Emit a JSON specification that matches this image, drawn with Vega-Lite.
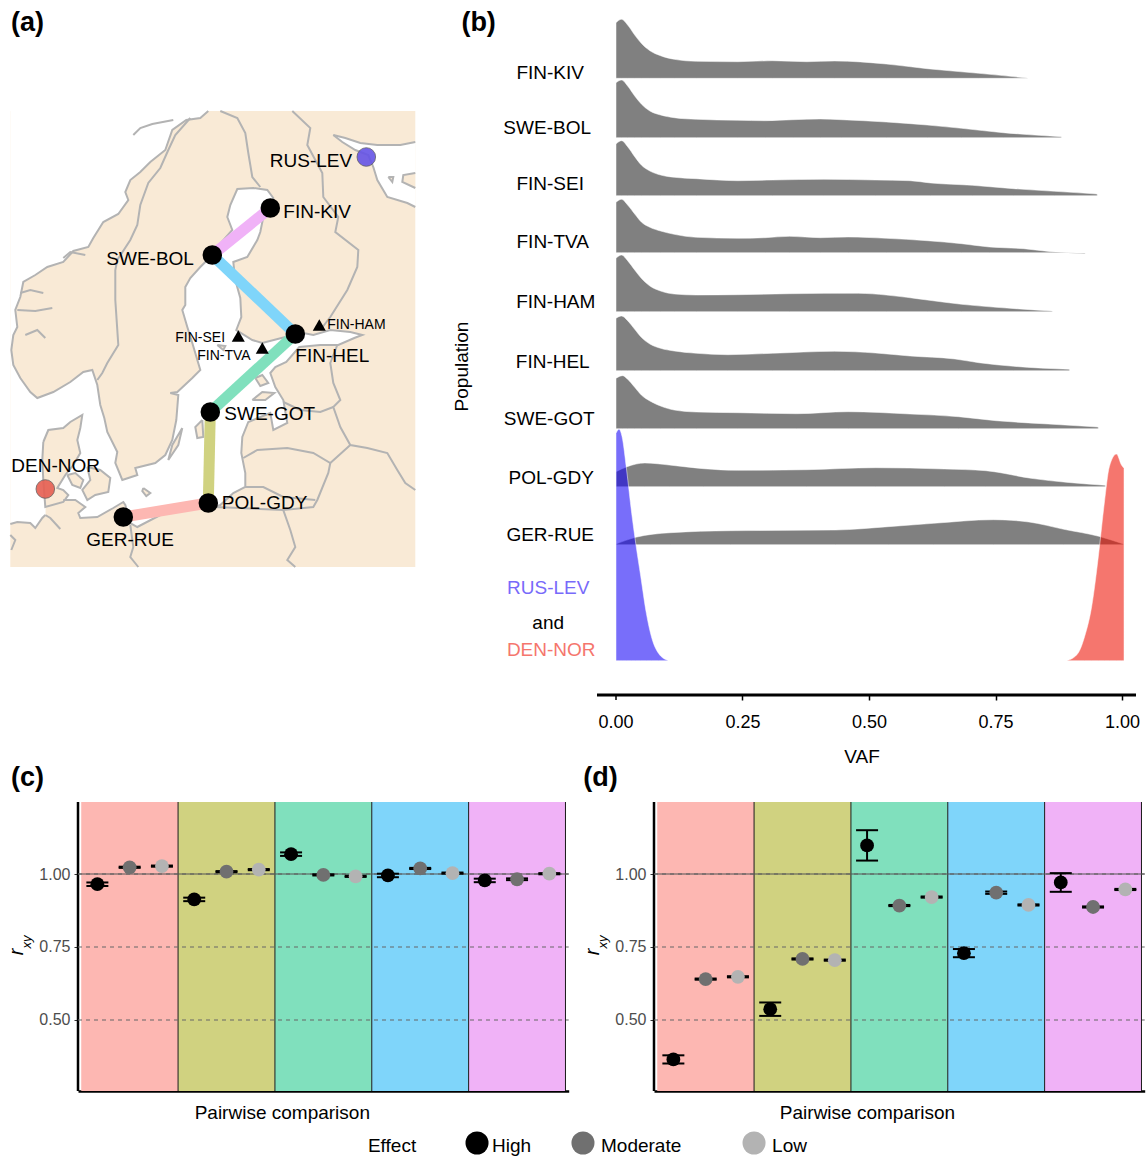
{
"$schema":"https://vega.github.io/schema/vega-lite/v6.json",
"padding":0,
"background":"white",
"columns":4,
"align":"none",
"bounds":"flush",
"spacing":{"row":39,"column":0},
"resolve":{"scale":{"color":"independent","fill":"independent"}},
"config":{"view":{"stroke":null},"font":"Liberation Sans","text":{"font":"Liberation Sans"},"axis":{"labelFont":"Liberation Sans","titleFont":"Liberation Sans"}},
"datasets":{
"map":[
{"sea":"main","x":1,"y":11.1},
{"sea":"main","line":"c1","x":20.8,"y":11.1},{"sea":"main","line":"c1","x":20,"y":11.8},{"sea":"main","line":"c1","x":18.6,"y":12},{"sea":"main","line":"c1","x":17.2,"y":13},{"sea":"main","line":"c1","x":16.5,"y":15},{"sea":"main","line":"c1","x":15,"y":16.2},{"sea":"main","line":"c1","x":14,"y":17.2},{"sea":"main","line":"c1","x":13,"y":18},{"sea":"main","line":"c1","x":12.5,"y":19.2},{"sea":"main","line":"c1","x":12.8,"y":20},{"sea":"main","line":"c1","x":11.8,"y":21.4},{"sea":"main","line":"c1","x":10.3,"y":22.2},{"sea":"main","line":"c1","x":9.3,"y":23.8},{"sea":"main","line":"c1","x":8.8,"y":24.7},{"sea":"main","line":"c1","x":7.3,"y":25.1},{"sea":"main","line":"c1","x":6.3,"y":26.2},{"sea":"main","line":"c1","x":4.7,"y":26.7},{"sea":"main","line":"c1","x":3.5,"y":27.5},{"sea":"main","line":"c1","x":2.3,"y":28.2},{"sea":"main","line":"c1","x":2,"y":29.7},{"sea":"main","line":"c1","x":1.5,"y":31},{"sea":"main","line":"c1","x":1.7,"y":32.7},{"sea":"main","line":"c1","x":1.3,"y":33.5},{"sea":"main","line":"c1","x":1.1,"y":35},{"sea":"main","line":"c1","x":1.3,"y":36.5},{"sea":"main","line":"c1","x":2,"y":37.8},{"sea":"main","line":"c1","x":3,"y":39.2},{"sea":"main","line":"c1","x":3.7,"y":39.8},{"sea":"main","line":"c1","x":5.3,"y":39.2},{"sea":"main","line":"c1","x":7,"y":38.2},{"sea":"main","line":"c1","x":8.3,"y":37.2},{"sea":"main","line":"c1","x":9.2,"y":37},{"sea":"main","line":"c1","x":9.7,"y":38.5},{"sea":"main","line":"c1","x":10,"y":40.5},{"sea":"main","line":"c1","x":10.4,"y":41.8},{"sea":"main","line":"c1","x":10.7,"y":43.2},{"sea":"main","line":"c1","x":11.7,"y":45.2},{"sea":"main","line":"c1","x":11.5,"y":46.3},{"sea":"main","line":"c1","x":12.2,"y":48},{"sea":"main","line":"c1","x":13.7,"y":47.5},{"sea":"main","line":"c1","x":13.5,"y":46.8},{"sea":"main","line":"c1","x":15.5,"y":46.3},{"sea":"main","line":"c1","x":16.5,"y":45.5},{"sea":"main","line":"c1","x":17.2,"y":44},{"sea":"main","line":"c1","x":17.6,"y":42},{"sea":"main","line":"c1","x":17.8,"y":39.5},{"sea":"main","line":"c1","x":17,"y":39.3},{"sea":"main","line":"c1","x":17.7,"y":39.2},{"sea":"main","line":"c1","x":19.2,"y":37.8},{"sea":"main","line":"c1","x":20,"y":37},{"sea":"main","line":"c1","x":19.2,"y":34.3},{"sea":"main","line":"c1","x":18.7,"y":32.7},{"sea":"main","line":"c1","x":18.2,"y":31},{"sea":"main","line":"c1","x":18.5,"y":30.5},{"sea":"main","line":"c1","x":18.5,"y":28.7},{"sea":"main","line":"c1","x":19,"y":27.8},{"sea":"main","line":"c1","x":20,"y":26.7},{"sea":"main","line":"c1","x":21.2,"y":25.5},{"sea":"main","line":"c1","x":21.7,"y":24.7},{"sea":"main","line":"c1","x":23.2,"y":23},{"sea":"main","line":"c1","x":22.7,"y":21.7},{"sea":"main","line":"c1","x":23,"y":20.5},{"sea":"main","line":"c1","x":23.7,"y":18.9},{"sea":"main","line":"c1","x":25.3,"y":18.8},{"sea":"main","line":"c1","x":26.7,"y":19},{"sea":"main","line":"c1","x":27.3,"y":19.8},{"sea":"main","line":"c1","x":26.3,"y":21.7},{"sea":"main","line":"c1","x":26,"y":23.2},{"sea":"main","line":"c1","x":25.7,"y":24},{"sea":"main","line":"c1","x":24.7,"y":25.7},{"sea":"main","line":"c1","x":23.3,"y":26.2},{"sea":"main","line":"c1","x":23.5,"y":28},{"sea":"main","line":"c1","x":24,"y":29.8},{"sea":"main","line":"c1","x":24.1,"y":31.7},{"sea":"main","line":"c1","x":23.6,"y":33},{"sea":"main","line":"c1","x":25.2,"y":34},{"sea":"main","line":"c1","x":26.2,"y":34.3},{"sea":"main","line":"c1","x":28.5,"y":33.7},{"sea":"main","line":"c1","x":29.8,"y":33.2},{"sea":"main","line":"c1","x":31.3,"y":33.5},{"sea":"main","line":"c1","x":33,"y":33},{"sea":"main","line":"c1","x":35,"y":33.2},{"sea":"main","line":"c1","x":36.2,"y":33.5},{"sea":"main","line":"c1","x":35.4,"y":33.8},{"sea":"main","line":"c1","x":33.8,"y":34.5},{"sea":"main","line":"c1","x":32,"y":34.5},{"sea":"main","line":"c1","x":29.9,"y":34.7},{"sea":"main","line":"c1","x":28.6,"y":36.2},{"sea":"main","line":"c1","x":27.5,"y":36.7},{"sea":"main","line":"c1","x":27,"y":37.3},{"sea":"main","line":"c1","x":27.5,"y":38.7},{"sea":"main","line":"c1","x":28.3,"y":40},{"sea":"main","line":"c1","x":28.7,"y":42.3},{"sea":"main","line":"c1","x":27.3,"y":43},{"sea":"main","line":"c1","x":27,"y":41.3},{"sea":"main","line":"c1","x":24.8,"y":42.2},{"sea":"main","line":"c1","x":24.2,"y":43.7},{"sea":"main","line":"c1","x":24.1,"y":45.3},{"sea":"main","line":"c1","x":24.5,"y":47.3},{"sea":"main","line":"c1","x":24.5,"y":48.7},{"sea":"main","line":"c1","x":23.3,"y":49.3},{"sea":"main","line":"c1","x":22,"y":50.5},{"sea":"main","line":"c1","x":21.3,"y":50.7},{"sea":"main","line":"c1","x":20,"y":50.5},{"sea":"main","line":"c1","x":18,"y":51},{"sea":"main","line":"c1","x":16,"y":51.5},{"sea":"main","line":"c1","x":13.7,"y":52.7},{"sea":"main","line":"c1","x":13,"y":52.3},{"sea":"main","line":"c1","x":12.5,"y":50.5},{"sea":"main","line":"c1","x":12.3,"y":50.2},{"sea":"main","line":"c1","x":11.3,"y":50.8},{"sea":"main","line":"c1","x":9.7,"y":51.7},{"sea":"main","line":"c1","x":8,"y":51.8},{"sea":"main","line":"c1","x":7.8,"y":51.3},{"sea":"main","line":"c1","x":8.5,"y":50.7},{"sea":"main","line":"c1","x":7.5,"y":50},{"sea":"main","line":"c1","x":6.3,"y":50},
{"sea":"main","x":6,"y":49},{"sea":"main","x":4.5,"y":49.5},
{"sea":"main","line":"c2","x":4.5,"y":51.5},{"sea":"main","line":"c2","x":4.2,"y":51.8},{"sea":"main","line":"c2","x":3.5,"y":52.8},{"sea":"main","line":"c2","x":3,"y":52.3},{"sea":"main","line":"c2","x":1.7,"y":52.2},{"sea":"main","line":"c2","x":1,"y":52.4},
{"sea":"white","line":"w1","x":33.3,"y":13.5},{"sea":"white","line":"w1","x":34.5,"y":13.8},{"sea":"white","line":"w1","x":36,"y":14.3},{"sea":"white","line":"w1","x":37.7,"y":14.5},{"sea":"white","line":"w1","x":40,"y":14.5},{"sea":"white","line":"w1","x":41.5,"y":14.2},
{"sea":"white","x":41.5,"y":20.7},
{"sea":"white","line":"w2","x":41.5,"y":20.7},{"sea":"white","line":"w2","x":40.7,"y":20.3},{"sea":"white","line":"w2","x":38.7,"y":19.7},{"sea":"white","line":"w2","x":37.7,"y":18},{"sea":"white","line":"w2","x":37.3,"y":16.7},{"sea":"white","line":"w2","x":36.8,"y":15.5},{"sea":"white","line":"w2","x":35.5,"y":15},{"sea":"white","line":"w2","x":34.2,"y":14.2},{"sea":"white","line":"w2","x":33.3,"y":13.5},
{"land":"kola","x":41.5,"y":17.3},{"land":"kola","x":40.3,"y":17.5},{"land":"kola","x":40.2,"y":18.2},{"land":"kola","x":41.5,"y":18.8},
{"land":"isl","x":38.8,"y":17.7},{"land":"isl","x":39.3,"y":17.7},{"land":"isl","x":39.2,"y":18.2},{"land":"isl","x":38.8,"y":17.7},
{"land":"jut","x":4.3,"y":44.2},{"land":"jut","x":4.8,"y":43},{"land":"jut","x":6.3,"y":42.8},{"land":"jut","x":7,"y":42.2},{"land":"jut","x":8.2,"y":41.5},{"land":"jut","x":8,"y":42.8},{"land":"jut","x":7.7,"y":44},{"land":"jut","x":8,"y":45.3},{"land":"jut","x":7.3,"y":46.5},{"land":"jut","x":6.5,"y":47.5},{"land":"jut","x":5.7,"y":48.8},{"land":"jut","x":6.3,"y":49},{"land":"jut","x":6.8,"y":49.5},{"land":"jut","x":6.3,"y":50.2},{"land":"jut","x":4.5,"y":50.7},{"land":"jut","x":4.3,"y":48},{"land":"jut","x":4.2,"y":46},{"land":"jut","x":4.3,"y":44.2},
{"land":"fyn","x":6.7,"y":47.5},{"land":"fyn","x":7.5,"y":47.3},{"land":"fyn","x":8.3,"y":48},{"land":"fyn","x":8,"y":48.8},{"land":"fyn","x":7.2,"y":48.5},{"land":"fyn","x":6.7,"y":47.5},
{"land":"zea","x":8.7,"y":46.7},{"land":"zea","x":10,"y":47},{"land":"zea","x":11,"y":47.8},{"land":"zea","x":10.8,"y":49.2},{"land":"zea","x":9.5,"y":49.5},{"land":"zea","x":8.7,"y":50},{"land":"zea","x":8.2,"y":49},{"land":"zea","x":9,"y":48},{"land":"zea","x":8.7,"y":46.7},
{"land":"bor","x":14.3,"y":48.8},{"land":"bor","x":15,"y":49.3},{"land":"bor","x":14.6,"y":49.6},{"land":"bor","x":14.2,"y":49.1},{"land":"bor","x":14.3,"y":48.8},
{"land":"ola","x":18.2,"y":42.8},{"land":"ola","x":17.8,"y":44.5},{"land":"ola","x":16.8,"y":46},{"land":"ola","x":17.2,"y":44.5},{"land":"ola","x":18.2,"y":42.8},
{"land":"got","x":20.2,"y":42},{"land":"got","x":20.3,"y":43.7},{"land":"got","x":19.7,"y":43.8},{"land":"got","x":19.5,"y":42.7},{"land":"got","x":20.2,"y":42},
{"land":"hii","x":25.5,"y":37.8},{"land":"hii","x":26.2,"y":37.5},{"land":"hii","x":26.8,"y":38.3},{"land":"hii","x":26,"y":38.6},{"land":"hii","x":25.5,"y":37.8},
{"land":"saa","x":25.2,"y":40},{"land":"saa","x":26.2,"y":39.2},{"land":"saa","x":27.4,"y":39.3},{"land":"saa","x":26.5,"y":40},{"land":"saa","x":25.2,"y":40},
{"land":"ala","x":21.7,"y":34.5},{"land":"ala","x":22.5,"y":34.6},{"land":"ala","x":22.3,"y":35},{"land":"ala","x":21.7,"y":34.5},
{"line":"lof","x":13.3,"y":13.5},{"line":"lof","x":14,"y":12.8},{"line":"lof","x":15.2,"y":12.4},{"line":"lof","x":17.3,"y":12},
{"line":"fj1","x":2,"y":29.3},{"line":"fj1","x":3,"y":29},{"line":"fj1","x":4.3,"y":29.3},
{"line":"fj2","x":1.7,"y":31},{"line":"fj2","x":3.5,"y":31.1},{"line":"fj2","x":5.2,"y":30.8},
{"line":"fj3","x":6.3,"y":25.8},{"line":"fj3","x":7,"y":25.2},{"line":"fj3","x":8.5,"y":25.5},
{"line":"fj4","x":2.5,"y":33.5},{"line":"fj4","x":3.7,"y":33},{"line":"fj4","x":4.5,"y":33.8},
{"line":"riv","x":4.5,"y":51.5},{"line":"riv","x":5,"y":51.8},{"line":"riv","x":6,"y":52.9},
{"line":"nos","x":19,"y":11.8},{"line":"nos","x":17.5,"y":13.5},{"line":"nos","x":16.8,"y":15},{"line":"nos","x":16,"y":16.8},{"line":"nos","x":14.8,"y":18.3},{"line":"nos","x":14,"y":20.5},{"line":"nos","x":13.7,"y":22.5},{"line":"nos","x":13,"y":24},{"line":"nos","x":11.7,"y":26},{"line":"nos","x":11.5,"y":27},{"line":"nos","x":11.5,"y":30},{"line":"nos","x":11.8,"y":34.5},{"line":"nos","x":10.7,"y":36.3},{"line":"nos","x":10.2,"y":37.3},{"line":"nos","x":9.7,"y":38},
{"line":"swf","x":22,"y":11.1},{"line":"swf","x":23.7,"y":11.8},{"line":"swf","x":24.5,"y":13.3},{"line":"swf","x":24.8,"y":15.3},{"line":"swf","x":25.2,"y":17.7},{"line":"swf","x":26,"y":18.7},
{"line":"fru","x":29.2,"y":11.1},{"line":"fru","x":31,"y":12.8},{"line":"fru","x":30.7,"y":14.5},{"line":"fru","x":32.2,"y":17.3},{"line":"fru","x":32.3,"y":19.7},{"line":"fru","x":33.8,"y":21.7},{"line":"fru","x":33.5,"y":23.2},{"line":"fru","x":35.8,"y":25},{"line":"fru","x":35.7,"y":26.7},{"line":"fru","x":34.7,"y":29},{"line":"fru","x":33,"y":31.7},{"line":"fru","x":32,"y":33},
{"line":"eru","x":33.7,"y":34.5},{"line":"eru","x":33,"y":36.3},{"line":"eru","x":33.3,"y":38.3},{"line":"eru","x":34,"y":40},{"line":"eru","x":33.3,"y":40.7},{"line":"eru","x":34,"y":42.7},{"line":"eru","x":35,"y":44.5},{"line":"eru","x":36.7,"y":44.8},{"line":"eru","x":38.7,"y":45.3},{"line":"eru","x":39.7,"y":47},{"line":"eru","x":40.5,"y":48.3},{"line":"eru","x":41.5,"y":49},
{"line":"est","x":28.3,"y":40.2},{"line":"est","x":30,"y":41},{"line":"est","x":32,"y":41.2},{"line":"est","x":33.3,"y":40.7},
{"line":"lat","x":24.3,"y":45.8},{"line":"lat","x":25.7,"y":45},{"line":"lat","x":28.7,"y":44.8},{"line":"lat","x":31.3,"y":45.3},{"line":"lat","x":33,"y":46.3},{"line":"lat","x":35,"y":44.5},
{"line":"bel","x":33,"y":46.3},{"line":"bel","x":32.8,"y":47.3},{"line":"bel","x":31.7,"y":50},{"line":"bel","x":31.3,"y":50.7},{"line":"bel","x":28.3,"y":51},{"line":"bel","x":29,"y":53},{"line":"bel","x":29.5,"y":54.7},{"line":"bel","x":28.7,"y":56},{"line":"bel","x":29.5,"y":56.7},
{"line":"kal","x":24.5,"y":48.7},{"line":"kal","x":26.3,"y":48.7},{"line":"kal","x":28.3,"y":49.7},{"line":"kal","x":31.5,"y":50},
{"line":"pol","x":21.3,"y":50.7},{"line":"pol","x":24,"y":50.8},{"line":"pol","x":28.3,"y":51},
{"line":"ger","x":13,"y":52.5},{"line":"ger","x":13.3,"y":54.7},{"line":"ger","x":13,"y":55.7},{"line":"ger","x":13.8,"y":56.7},
{"line":"ned","x":1,"y":53.5},{"line":"ned","x":1.5,"y":54},{"line":"ned","x":1.1,"y":55}
],
"ridges":[
{"pop":"FIN-KIV","vaf":0,"ymin":61.67,"ymax":67.23},{"pop":"FIN-KIV","vaf":0.011,"ymin":61.67,"ymax":67.57},{"pop":"FIN-KIV","vaf":0.023,"ymin":61.67,"ymax":67},{"pop":"FIN-KIV","vaf":0.037,"ymin":61.67,"ymax":66},{"pop":"FIN-KIV","vaf":0.05,"ymin":61.67,"ymax":65.17},{"pop":"FIN-KIV","vaf":0.067,"ymin":61.67,"ymax":64.43},{"pop":"FIN-KIV","vaf":0.088,"ymin":61.67,"ymax":63.93},{"pop":"FIN-KIV","vaf":0.115,"ymin":61.67,"ymax":63.57},{"pop":"FIN-KIV","vaf":0.159,"ymin":61.67,"ymax":63.37},{"pop":"FIN-KIV","vaf":0.241,"ymin":61.67,"ymax":63.33},{"pop":"FIN-KIV","vaf":0.309,"ymin":61.67,"ymax":63.43},{"pop":"FIN-KIV","vaf":0.377,"ymin":61.67,"ymax":63.33},{"pop":"FIN-KIV","vaf":0.432,"ymin":61.67,"ymax":63.4},{"pop":"FIN-KIV","vaf":0.534,"ymin":61.67,"ymax":63.1},{"pop":"FIN-KIV","vaf":0.615,"ymin":61.67,"ymax":62.63},{"pop":"FIN-KIV","vaf":0.717,"ymin":61.67,"ymax":62.17},{"pop":"FIN-KIV","vaf":0.813,"ymin":61.67,"ymax":61.7},
{"pop":"SWE-BOL","vaf":0,"ymin":55.73,"ymax":61.23},{"pop":"SWE-BOL","vaf":0.011,"ymin":55.73,"ymax":61.5},{"pop":"SWE-BOL","vaf":0.023,"ymin":55.73,"ymax":60.9},{"pop":"SWE-BOL","vaf":0.037,"ymin":55.73,"ymax":59.9},{"pop":"SWE-BOL","vaf":0.05,"ymin":55.73,"ymax":59.1},{"pop":"SWE-BOL","vaf":0.067,"ymin":55.73,"ymax":58.4},{"pop":"SWE-BOL","vaf":0.088,"ymin":55.73,"ymax":58},{"pop":"SWE-BOL","vaf":0.115,"ymin":55.73,"ymax":57.73},{"pop":"SWE-BOL","vaf":0.159,"ymin":55.73,"ymax":57.57},{"pop":"SWE-BOL","vaf":0.241,"ymin":55.73,"ymax":57.47},{"pop":"SWE-BOL","vaf":0.295,"ymin":55.73,"ymax":57.43},{"pop":"SWE-BOL","vaf":0.35,"ymin":55.73,"ymax":57.53},{"pop":"SWE-BOL","vaf":0.404,"ymin":55.73,"ymax":57.6},{"pop":"SWE-BOL","vaf":0.445,"ymin":55.73,"ymax":57.53},{"pop":"SWE-BOL","vaf":0.534,"ymin":55.73,"ymax":57.3},{"pop":"SWE-BOL","vaf":0.615,"ymin":55.73,"ymax":57},{"pop":"SWE-BOL","vaf":0.683,"ymin":55.73,"ymax":56.67},{"pop":"SWE-BOL","vaf":0.765,"ymin":55.73,"ymax":56.23},{"pop":"SWE-BOL","vaf":0.88,"ymin":55.73,"ymax":55.83},
{"pop":"FIN-SEI","vaf":0,"ymin":49.93,"ymax":55.1},{"pop":"FIN-SEI","vaf":0.011,"ymin":49.93,"ymax":55.43},{"pop":"FIN-SEI","vaf":0.023,"ymin":49.93,"ymax":54.83},{"pop":"FIN-SEI","vaf":0.037,"ymin":49.93,"ymax":53.83},{"pop":"FIN-SEI","vaf":0.05,"ymin":49.93,"ymax":53},{"pop":"FIN-SEI","vaf":0.067,"ymin":49.93,"ymax":52.4},{"pop":"FIN-SEI","vaf":0.088,"ymin":49.93,"ymax":52},{"pop":"FIN-SEI","vaf":0.115,"ymin":49.93,"ymax":51.77},{"pop":"FIN-SEI","vaf":0.159,"ymin":49.93,"ymax":51.63},{"pop":"FIN-SEI","vaf":0.241,"ymin":49.93,"ymax":51.43},{"pop":"FIN-SEI","vaf":0.309,"ymin":49.93,"ymax":51.5},{"pop":"FIN-SEI","vaf":0.411,"ymin":49.93,"ymax":51.57},{"pop":"FIN-SEI","vaf":0.513,"ymin":49.93,"ymax":51.5},{"pop":"FIN-SEI","vaf":0.581,"ymin":49.93,"ymax":51.43},{"pop":"FIN-SEI","vaf":0.622,"ymin":49.93,"ymax":51.2},{"pop":"FIN-SEI","vaf":0.704,"ymin":49.93,"ymax":50.97},{"pop":"FIN-SEI","vaf":0.786,"ymin":49.93,"ymax":50.63},{"pop":"FIN-SEI","vaf":0.867,"ymin":49.93,"ymax":50.37},{"pop":"FIN-SEI","vaf":0.951,"ymin":49.93,"ymax":50.1},
{"pop":"FIN-TVA","vaf":0,"ymin":44.23,"ymax":49.27},{"pop":"FIN-TVA","vaf":0.011,"ymin":44.23,"ymax":49.57},{"pop":"FIN-TVA","vaf":0.023,"ymin":44.23,"ymax":49},{"pop":"FIN-TVA","vaf":0.037,"ymin":44.23,"ymax":48.1},{"pop":"FIN-TVA","vaf":0.05,"ymin":44.23,"ymax":47.3},{"pop":"FIN-TVA","vaf":0.067,"ymin":44.23,"ymax":46.77},{"pop":"FIN-TVA","vaf":0.088,"ymin":44.23,"ymax":46.4},{"pop":"FIN-TVA","vaf":0.115,"ymin":44.23,"ymax":46.07},{"pop":"FIN-TVA","vaf":0.159,"ymin":44.23,"ymax":45.77},{"pop":"FIN-TVA","vaf":0.241,"ymin":44.23,"ymax":45.67},{"pop":"FIN-TVA","vaf":0.295,"ymin":44.23,"ymax":45.73},{"pop":"FIN-TVA","vaf":0.343,"ymin":44.23,"ymax":45.87},{"pop":"FIN-TVA","vaf":0.404,"ymin":44.23,"ymax":45.73},{"pop":"FIN-TVA","vaf":0.459,"ymin":44.23,"ymax":45.8},{"pop":"FIN-TVA","vaf":0.534,"ymin":44.23,"ymax":45.67},{"pop":"FIN-TVA","vaf":0.615,"ymin":44.23,"ymax":45.43},{"pop":"FIN-TVA","vaf":0.683,"ymin":44.23,"ymax":45.13},{"pop":"FIN-TVA","vaf":0.738,"ymin":44.23,"ymax":44.8},{"pop":"FIN-TVA","vaf":0.806,"ymin":44.23,"ymax":44.63},{"pop":"FIN-TVA","vaf":0.86,"ymin":44.23,"ymax":44.33},{"pop":"FIN-TVA","vaf":0.927,"ymin":44.13,"ymax":44.2},
{"pop":"FIN-HAM","vaf":0,"ymin":38.33,"ymax":43.67},{"pop":"FIN-HAM","vaf":0.011,"ymin":38.33,"ymax":44},{"pop":"FIN-HAM","vaf":0.023,"ymin":38.33,"ymax":43.43},{"pop":"FIN-HAM","vaf":0.037,"ymin":38.33,"ymax":42.5},{"pop":"FIN-HAM","vaf":0.05,"ymin":38.33,"ymax":41.67},{"pop":"FIN-HAM","vaf":0.067,"ymin":38.33,"ymax":40.9},{"pop":"FIN-HAM","vaf":0.088,"ymin":38.33,"ymax":40.4},{"pop":"FIN-HAM","vaf":0.115,"ymin":38.33,"ymax":40.1},{"pop":"FIN-HAM","vaf":0.159,"ymin":38.33,"ymax":40},{"pop":"FIN-HAM","vaf":0.241,"ymin":38.33,"ymax":40.03},{"pop":"FIN-HAM","vaf":0.343,"ymin":38.33,"ymax":40.13},{"pop":"FIN-HAM","vaf":0.479,"ymin":38.33,"ymax":40.17},{"pop":"FIN-HAM","vaf":0.534,"ymin":38.33,"ymax":40},{"pop":"FIN-HAM","vaf":0.615,"ymin":38.33,"ymax":39.5},{"pop":"FIN-HAM","vaf":0.683,"ymin":38.33,"ymax":39.07},{"pop":"FIN-HAM","vaf":0.751,"ymin":38.33,"ymax":38.77},{"pop":"FIN-HAM","vaf":0.862,"ymin":38.33,"ymax":38.4},
{"pop":"FIN-HEL","vaf":0,"ymin":32.43,"ymax":37.67},{"pop":"FIN-HEL","vaf":0.011,"ymin":32.43,"ymax":37.9},{"pop":"FIN-HEL","vaf":0.023,"ymin":32.43,"ymax":37.43},{"pop":"FIN-HEL","vaf":0.037,"ymin":32.43,"ymax":36.57},{"pop":"FIN-HEL","vaf":0.05,"ymin":32.43,"ymax":35.77},{"pop":"FIN-HEL","vaf":0.067,"ymin":32.43,"ymax":35.1},{"pop":"FIN-HEL","vaf":0.088,"ymin":32.43,"ymax":34.67},{"pop":"FIN-HEL","vaf":0.115,"ymin":32.43,"ymax":34.4},{"pop":"FIN-HEL","vaf":0.159,"ymin":32.43,"ymax":34.17},{"pop":"FIN-HEL","vaf":0.221,"ymin":32.43,"ymax":34.03},{"pop":"FIN-HEL","vaf":0.309,"ymin":32.43,"ymax":34.17},{"pop":"FIN-HEL","vaf":0.432,"ymin":32.43,"ymax":34.37},{"pop":"FIN-HEL","vaf":0.513,"ymin":32.43,"ymax":34.2},{"pop":"FIN-HEL","vaf":0.581,"ymin":32.43,"ymax":33.9},{"pop":"FIN-HEL","vaf":0.67,"ymin":32.43,"ymax":33.6},{"pop":"FIN-HEL","vaf":0.717,"ymin":32.43,"ymax":33.23},{"pop":"FIN-HEL","vaf":0.786,"ymin":32.43,"ymax":32.87},{"pop":"FIN-HEL","vaf":0.896,"ymin":32.43,"ymax":32.57},
{"pop":"SWE-GOT","vaf":0,"ymin":26.63,"ymax":31.67},{"pop":"SWE-GOT","vaf":0.013,"ymin":26.63,"ymax":31.93},{"pop":"SWE-GOT","vaf":0.023,"ymin":26.63,"ymax":31.57},{"pop":"SWE-GOT","vaf":0.037,"ymin":26.63,"ymax":30.77},{"pop":"SWE-GOT","vaf":0.05,"ymin":26.63,"ymax":30},{"pop":"SWE-GOT","vaf":0.067,"ymin":26.63,"ymax":29.4},{"pop":"SWE-GOT","vaf":0.088,"ymin":26.63,"ymax":28.9},{"pop":"SWE-GOT","vaf":0.115,"ymin":26.63,"ymax":28.5},{"pop":"SWE-GOT","vaf":0.159,"ymin":26.63,"ymax":28.3},{"pop":"SWE-GOT","vaf":0.241,"ymin":26.63,"ymax":28.23},{"pop":"SWE-GOT","vaf":0.357,"ymin":26.63,"ymax":28.13},{"pop":"SWE-GOT","vaf":0.459,"ymin":26.63,"ymax":28.33},{"pop":"SWE-GOT","vaf":0.581,"ymin":26.63,"ymax":28.1},{"pop":"SWE-GOT","vaf":0.677,"ymin":26.63,"ymax":27.83},{"pop":"SWE-GOT","vaf":0.751,"ymin":26.63,"ymax":27.43},{"pop":"SWE-GOT","vaf":0.854,"ymin":26.63,"ymax":27.1},{"pop":"SWE-GOT","vaf":0.953,"ymin":26.63,"ymax":26.8},
{"pop":"POL-GDY","vaf":0,"ymin":20.83,"ymax":22.33},{"pop":"POL-GDY","vaf":0.022,"ymin":20.83,"ymax":22.83},{"pop":"POL-GDY","vaf":0.057,"ymin":20.83,"ymax":23.2},{"pop":"POL-GDY","vaf":0.105,"ymin":20.83,"ymax":23},{"pop":"POL-GDY","vaf":0.173,"ymin":20.83,"ymax":22.63},{"pop":"POL-GDY","vaf":0.241,"ymin":20.83,"ymax":22.47},{"pop":"POL-GDY","vaf":0.377,"ymin":20.83,"ymax":22.53},{"pop":"POL-GDY","vaf":0.513,"ymin":20.83,"ymax":22.73},{"pop":"POL-GDY","vaf":0.649,"ymin":20.83,"ymax":22.6},{"pop":"POL-GDY","vaf":0.731,"ymin":20.83,"ymax":22.43},{"pop":"POL-GDY","vaf":0.82,"ymin":20.83,"ymax":21.67},{"pop":"POL-GDY","vaf":0.967,"ymin":20.83,"ymax":20.97},
{"pop":"GER-RUE","vaf":0,"ymin":15.03,"ymax":15.1},{"pop":"GER-RUE","vaf":0.039,"ymin":15.03,"ymax":15.77},{"pop":"GER-RUE","vaf":0.108,"ymin":15.03,"ymax":16.23},{"pop":"GER-RUE","vaf":0.226,"ymin":15.03,"ymax":16.43},{"pop":"GER-RUE","vaf":0.434,"ymin":15.03,"ymax":16.5},{"pop":"GER-RUE","vaf":0.538,"ymin":15.03,"ymax":16.83},{"pop":"GER-RUE","vaf":0.628,"ymin":15.03,"ymax":17.17},{"pop":"GER-RUE","vaf":0.746,"ymin":15.03,"ymax":17.53},{"pop":"GER-RUE","vaf":0.816,"ymin":15.03,"ymax":17.3},{"pop":"GER-RUE","vaf":0.885,"ymin":15.03,"ymax":16.57},{"pop":"GER-RUE","vaf":0.954,"ymin":15.03,"ymax":15.87},{"pop":"GER-RUE","vaf":1.003,"ymin":15.03,"ymax":15.1},
{"pop":"RUS-LEV","vaf":0,"ymin":3.43,"ymax":26.17},{"pop":"RUS-LEV","vaf":0.006,"ymin":3.43,"ymax":26.57},{"pop":"RUS-LEV","vaf":0.012,"ymin":3.43,"ymax":25.83},{"pop":"RUS-LEV","vaf":0.021,"ymin":3.43,"ymax":22.5},{"pop":"RUS-LEV","vaf":0.031,"ymin":3.43,"ymax":18.17},{"pop":"RUS-LEV","vaf":0.039,"ymin":3.43,"ymax":15.17},{"pop":"RUS-LEV","vaf":0.049,"ymin":3.43,"ymax":11.83},{"pop":"RUS-LEV","vaf":0.06,"ymin":3.43,"ymax":8.17},{"pop":"RUS-LEV","vaf":0.07,"ymin":3.43,"ymax":5.83},{"pop":"RUS-LEV","vaf":0.084,"ymin":3.43,"ymax":4.17},{"pop":"RUS-LEV","vaf":0.103,"ymin":3.43,"ymax":3.45},
{"pop":"DEN-NOR","vaf":0.892,"ymin":3.43,"ymax":3.45},{"pop":"DEN-NOR","vaf":0.913,"ymin":3.43,"ymax":4.17},{"pop":"DEN-NOR","vaf":0.926,"ymin":3.43,"ymax":5.83},{"pop":"DEN-NOR","vaf":0.94,"ymin":3.43,"ymax":8.83},{"pop":"DEN-NOR","vaf":0.954,"ymin":3.43,"ymax":14.17},{"pop":"DEN-NOR","vaf":0.965,"ymin":3.43,"ymax":19.17},{"pop":"DEN-NOR","vaf":0.975,"ymin":3.43,"ymax":22.83},{"pop":"DEN-NOR","vaf":0.989,"ymin":3.43,"ymax":24.1},{"pop":"DEN-NOR","vaf":0.999,"ymin":3.43,"ymax":23},{"pop":"DEN-NOR","vaf":1.004,"ymin":3.43,"ymax":22.67}
],
"bands":[
{"pair":"GER-RUE / POL-GDY","pos":0.5,"pos2":3.5,"r":1.2466,"r2":0.2568},
{"pair":"POL-GDY / SWE-GOT","pos":3.5,"pos2":6.5,"r":1.2466,"r2":0.2568},
{"pair":"SWE-GOT / FIN-HEL","pos":6.5,"pos2":9.5,"r":1.2466,"r2":0.2568},
{"pair":"FIN-HEL / SWE-BOL","pos":9.5,"pos2":12.5,"r":1.2466,"r2":0.2568},
{"pair":"SWE-BOL / FIN-KIV","pos":12.5,"pos2":15.5,"r":1.2466,"r2":0.2568}],
"seps":[{"pos":3.5,"r":1.2466,"r2":0.2568},{"pos":6.5,"r":1.2466,"r2":0.2568},{"pos":9.5,"r":1.2466,"r2":0.2568},{"pos":12.5,"r":1.2466,"r2":0.2568},{"pos":15.5,"r":1.2466,"r2":0.2568}],
"yline":[{"pos":0.4,"r":1.2466,"r2":0.2568}],
"levels":[{"r":0.5,"pos":0.4,"pos2":15.6},{"r":0.75,"pos":0.4,"pos2":15.6},{"r":1,"pos":0.4,"pos2":15.6}],
"unity":[{"r":1,"pos":0.4,"pos2":15.6}],
"c":[
{"pair":"GER-RUE / POL-GDY","effect":"High","pos":1,"r":0.965},{"pair":"GER-RUE / POL-GDY","effect":"Moderate","pos":2,"r":1.023},{"pair":"GER-RUE / POL-GDY","effect":"Low","pos":3,"r":1.027},
{"pair":"POL-GDY / SWE-GOT","effect":"High","pos":4,"r":0.913},{"pair":"POL-GDY / SWE-GOT","effect":"Moderate","pos":5,"r":1.008},{"pair":"POL-GDY / SWE-GOT","effect":"Low","pos":6,"r":1.015},
{"pair":"SWE-GOT / FIN-HEL","effect":"High","pos":7,"r":1.068},{"pair":"SWE-GOT / FIN-HEL","effect":"Moderate","pos":8,"r":0.997},{"pair":"SWE-GOT / FIN-HEL","effect":"Low","pos":9,"r":0.992},
{"pair":"FIN-HEL / SWE-BOL","effect":"High","pos":10,"r":0.995},{"pair":"FIN-HEL / SWE-BOL","effect":"Moderate","pos":11,"r":1.019},{"pair":"FIN-HEL / SWE-BOL","effect":"Low","pos":12,"r":1.003},
{"pair":"SWE-BOL / FIN-KIV","effect":"High","pos":13,"r":0.978},{"pair":"SWE-BOL / FIN-KIV","effect":"Moderate","pos":14,"r":0.982},{"pair":"SWE-BOL / FIN-KIV","effect":"Low","pos":15,"r":1.001}],
"cErr":[
{"pos":1,"bound":"lo","r":0.959},{"pos":1,"bound":"hi","r":0.971},{"pos":2,"bound":"lo","r":1.021},{"pos":2,"bound":"hi","r":1.025},{"pos":3,"bound":"lo","r":1.025},{"pos":3,"bound":"hi","r":1.029},
{"pos":4,"bound":"lo","r":0.907},{"pos":4,"bound":"hi","r":0.919},{"pos":5,"bound":"lo","r":1.006},{"pos":5,"bound":"hi","r":1.01},{"pos":6,"bound":"lo","r":1.013},{"pos":6,"bound":"hi","r":1.017},
{"pos":7,"bound":"lo","r":1.062},{"pos":7,"bound":"hi","r":1.074},{"pos":8,"bound":"lo","r":0.995},{"pos":8,"bound":"hi","r":0.999},{"pos":9,"bound":"lo","r":0.99},{"pos":9,"bound":"hi","r":0.994},
{"pos":10,"bound":"lo","r":0.989},{"pos":10,"bound":"hi","r":1.001},{"pos":11,"bound":"lo","r":1.017},{"pos":11,"bound":"hi","r":1.021},{"pos":12,"bound":"lo","r":1.001},{"pos":12,"bound":"hi","r":1.005},
{"pos":13,"bound":"lo","r":0.972},{"pos":13,"bound":"hi","r":0.984},{"pos":14,"bound":"lo","r":0.979},{"pos":14,"bound":"hi","r":0.985},{"pos":15,"bound":"lo","r":0.999},{"pos":15,"bound":"hi","r":1.003}],
"d":[
{"pair":"GER-RUE / POL-GDY","effect":"High","pos":1,"r":0.365},{"pair":"GER-RUE / POL-GDY","effect":"Moderate","pos":2,"r":0.64},{"pair":"GER-RUE / POL-GDY","effect":"Low","pos":3,"r":0.648},
{"pair":"POL-GDY / SWE-GOT","effect":"High","pos":4,"r":0.537},{"pair":"POL-GDY / SWE-GOT","effect":"Moderate","pos":5,"r":0.709},{"pair":"POL-GDY / SWE-GOT","effect":"Low","pos":6,"r":0.705},
{"pair":"SWE-GOT / FIN-HEL","effect":"High","pos":7,"r":1.098},{"pair":"SWE-GOT / FIN-HEL","effect":"Moderate","pos":8,"r":0.892},{"pair":"SWE-GOT / FIN-HEL","effect":"Low","pos":9,"r":0.921},
{"pair":"FIN-HEL / SWE-BOL","effect":"High","pos":10,"r":0.729},{"pair":"FIN-HEL / SWE-BOL","effect":"Moderate","pos":11,"r":0.936},{"pair":"FIN-HEL / SWE-BOL","effect":"Low","pos":12,"r":0.894},
{"pair":"SWE-BOL / FIN-KIV","effect":"High","pos":13,"r":0.971},{"pair":"SWE-BOL / FIN-KIV","effect":"Moderate","pos":14,"r":0.887},{"pair":"SWE-BOL / FIN-KIV","effect":"Low","pos":15,"r":0.947}],
"dErr":[
{"pos":1,"bound":"lo","r":0.351},{"pos":1,"bound":"hi","r":0.379},{"pos":2,"bound":"lo","r":0.638},{"pos":2,"bound":"hi","r":0.642},{"pos":3,"bound":"lo","r":0.646},{"pos":3,"bound":"hi","r":0.65},
{"pos":4,"bound":"lo","r":0.514},{"pos":4,"bound":"hi","r":0.56},{"pos":5,"bound":"lo","r":0.707},{"pos":5,"bound":"hi","r":0.711},{"pos":6,"bound":"lo","r":0.703},{"pos":6,"bound":"hi","r":0.707},
{"pos":7,"bound":"lo","r":1.046},{"pos":7,"bound":"hi","r":1.15},{"pos":8,"bound":"lo","r":0.89},{"pos":8,"bound":"hi","r":0.894},{"pos":9,"bound":"lo","r":0.919},{"pos":9,"bound":"hi","r":0.923},
{"pos":10,"bound":"lo","r":0.715},{"pos":10,"bound":"hi","r":0.743},{"pos":11,"bound":"lo","r":0.932},{"pos":11,"bound":"hi","r":0.94},{"pos":12,"bound":"lo","r":0.892},{"pos":12,"bound":"hi","r":0.896},
{"pos":13,"bound":"lo","r":0.939},{"pos":13,"bound":"hi","r":1.003},{"pos":14,"bound":"lo","r":0.885},{"pos":14,"bound":"hi","r":0.889},{"pos":15,"bound":"lo","r":0.945},{"pos":15,"bound":"hi","r":0.949}]
},
"concat":[
{"width":77.7,"height":695,"data":{"values":[{"label":"(a)","x":0.1415,"y":0.967}]},"mark":{"type":"text","align":"left","baseline":"middle","fontSize":27,"fontWeight":"bold"},"encoding":{"x":{"field":"x","type":"quantitative","axis":null,"scale":{"domain":[0,1]}},"y":{"field":"y","type":"quantitative","axis":null,"scale":{"domain":[0,1]}},"text":{"field":"label"}}},
{"width":490.7,"height":695,
"encoding":{"x":{"field":"x","type":"quantitative","axis":null,"scale":{"domain":[7.77,56.84],"nice":false,"zero":false}},"y":{"field":"y","type":"quantitative","axis":null,"scale":{"domain":[69.5,0],"nice":false,"zero":false}}},
"layer":[
{"data":{"values":[{"x":1,"x2":41.5,"y":11.1,"y2":56.7}]},"mark":{"type":"rect","color":"#F9EAD6"},"encoding":{"x2":{"field":"x2"},"y2":{"field":"y2"}}},
{"data":{"name":"map"},"transform":[{"filter":"datum.sea"}],"mark":{"type":"line","fill":"white","stroke":"white","strokeWidth":0.5},"encoding":{"detail":{"field":"sea"},"order":{"value":null}}},
{"data":{"name":"map"},"transform":[{"filter":"datum.land"}],"mark":{"type":"line","fill":"#F9EAD6","stroke":"#B3B3B3","strokeWidth":2},"encoding":{"detail":{"field":"land"},"order":{"value":null}}},
{"data":{"name":"map"},"transform":[{"filter":"datum.line"}],"mark":{"type":"line","stroke":"#B3B3B3","strokeWidth":2},"encoding":{"detail":{"field":"line"},"order":{"value":null}}},
{"data":{"values":[
{"pair":"GER-RUE / POL-GDY","x":12.3,"y":51.7,"x2":20.8,"y2":50.3},
{"pair":"POL-GDY / SWE-GOT","x":20.8,"y":50.3,"x2":21,"y2":41.2},
{"pair":"SWE-GOT / FIN-HEL","x":21,"y":41.2,"x2":29.5,"y2":33.4},
{"pair":"FIN-HEL / SWE-BOL","x":29.5,"y":33.4,"x2":21.2,"y2":25.5},
{"pair":"SWE-BOL / FIN-KIV","x":21.2,"y":25.5,"x2":27,"y2":20.8}]},
"mark":{"type":"rule","strokeWidth":11},"encoding":{"x2":{"field":"x2"},"y2":{"field":"y2"},"color":{"field":"pair","type":"nominal","legend":null,"scale":{"domain":["GER-RUE / POL-GDY","POL-GDY / SWE-GOT","SWE-GOT / FIN-HEL","FIN-HEL / SWE-BOL","SWE-BOL / FIN-KIV"],"range":["#FDB7B2","#D0D280","#80E0BD","#7FD5FA","#F0B2F7"]}}}},
{"data":{"values":[{"site":"RUS-LEV","x":36.6,"y":15.7}]},"mark":{"type":"circle","size":346,"opacity":0.9,"color":"#6654E6","stroke":"#555555","strokeWidth":0.8},"encoding":{}},
{"data":{"values":[{"site":"DEN-NOR","x":4.5,"y":48.9}]},"mark":{"type":"circle","size":346,"opacity":0.9,"color":"#E65F52","stroke":"#555555","strokeWidth":0.8},"encoding":{}},
{"data":{"values":[{"site":"FIN-KIV","x":27,"y":20.8},{"site":"SWE-BOL","x":21.2,"y":25.5},{"site":"FIN-HEL","x":29.5,"y":33.4},{"site":"SWE-GOT","x":21,"y":41.2},{"site":"POL-GDY","x":20.8,"y":50.3},{"site":"GER-RUE","x":12.3,"y":51.7}]},"mark":{"type":"circle","size":380,"opacity":1,"color":"black"},"encoding":{}},
{"data":{"values":[{"site":"FIN-SEI","x":23.8,"y":33.6},{"site":"FIN-TVA","x":26.2,"y":34.8},{"site":"FIN-HAM","x":31.9,"y":32.5}]},"mark":{"type":"point","shape":"triangle-up","filled":true,"size":170,"opacity":1,"color":"black"},"encoding":{}},
{"data":{"values":[{"site":"RUS-LEV","x":26.95,"y":16.1},{"site":"FIN-KIV","x":28.3,"y":21.2},{"site":"SWE-BOL","x":10.6,"y":25.9},{"site":"FIN-HEL","x":29.5,"y":35.6},{"site":"SWE-GOT","x":22.4,"y":41.4},{"site":"POL-GDY","x":22.15,"y":50.3},{"site":"GER-RUE","x":8.6,"y":54},{"site":"DEN-NOR","x":1.1,"y":46.6}]},"mark":{"type":"text","align":"left","baseline":"middle","fontSize":19},"encoding":{"text":{"field":"site"}}},
{"data":{"values":[{"site":"FIN-HAM","x":32.7,"y":32.5},{"site":"FIN-SEI","x":17.5,"y":33.8},{"site":"FIN-TVA","x":19.7,"y":35.6}]},"mark":{"type":"text","align":"left","baseline":"middle","fontSize":14},"encoding":{"text":{"field":"site"}}}
]},
{"width":84.4,"height":695,"data":{"values":[{"label":"(b)","x":-1.275,"y":0.967}]},"mark":{"type":"text","align":"left","baseline":"middle","fontSize":27,"fontWeight":"bold"},"encoding":{"x":{"field":"x","type":"quantitative","axis":null,"scale":{"domain":[0,1],"zero":false}},"y":{"field":"y","type":"quantitative","axis":null,"scale":{"domain":[0,1]}},"text":{"field":"label"}}},
{"width":490.7,"height":695,
"encoding":{
"x":{"field":"vaf","type":"quantitative","scale":{"domain":[0.0751,1.04486],"nice":false,"zero":false},"axis":{"values":[0,0.25,0.5,0.75,1],"format":".2f","grid":false,"domain":false,"tickColor":"black","tickWidth":1.5,"tickSize":5,"labelFontSize":18,"labelColor":"black","labelPadding":13,"labelFlush":false,"title":"VAF","titleFontSize":19,"titleFontWeight":"normal","titleColor":"black","titleX":207.5,"titleY":61,"titleBaseline":"middle"}},
"y":{"field":"ymax","type":"quantitative","scale":{"domain":[0,69.5],"nice":false,"zero":false},"axis":{"domain":false,"ticks":false,"labels":false,"grid":false,"title":"Population","titleFontSize":19,"titleFontWeight":"normal","titleColor":"black","titleX":-193,"titleY":366,"titleBaseline":"middle"}}},
"layer":[
{"data":{"name":"ridges"},"mark":{"type":"area","interpolate":"monotone","stroke":"white","strokeWidth":0.5},"encoding":{"y2":{"field":"ymin"},"fill":{"field":"pop","type":"nominal","legend":null,"scale":{"domain":["FIN-KIV","SWE-BOL","FIN-SEI","FIN-TVA","FIN-HAM","FIN-HEL","SWE-GOT","POL-GDY","GER-RUE","RUS-LEV","DEN-NOR"],"range":["#808080","#808080","#808080","#808080","#808080","#808080","#808080","#808080","#808080","rgba(18,0,246,0.57)","rgba(237,14,0,0.57)"]}}}},
{"data":{"values":[{"vaf":-0.03755,"vaf2":1.02767,"ymax":0}]},"mark":{"type":"rule","color":"black","strokeWidth":3},"encoding":{"x2":{"field":"vaf2"}}},
{"data":{"values":[{"vaf":0,"ymax":0,"ylow":-0.5}]},"mark":{"type":"rule","color":"black","strokeWidth":1.5},"encoding":{"y2":{"field":"ylow"}}},
{"data":{"values":[{"label":"0.00","vaf":0,"ymax":-2.75}]},"mark":{"type":"text","align":"center","baseline":"middle","fontSize":18},"encoding":{"text":{"field":"label"}}},
{"data":{"values":[{"label":"FIN-KIV","vaf":-0.13,"ymax":62.2},{"label":"SWE-BOL","vaf":-0.136,"ymax":56.7},{"label":"FIN-SEI","vaf":-0.13,"ymax":51.1},{"label":"FIN-TVA","vaf":-0.125,"ymax":45.3},{"label":"FIN-HAM","vaf":-0.119,"ymax":39.3},{"label":"FIN-HEL","vaf":-0.125,"ymax":33.3},{"label":"SWE-GOT","vaf":-0.132,"ymax":27.6},{"label":"POL-GDY","vaf":-0.128,"ymax":21.7},{"label":"GER-RUE","vaf":-0.13,"ymax":16},{"label":"RUS-LEV","vaf":-0.134,"ymax":10.7},{"label":"and","vaf":-0.134,"ymax":7.2},{"label":"DEN-NOR","vaf":-0.128,"ymax":4.5}]},"mark":{"type":"text","align":"center","baseline":"middle","fontSize":19},"encoding":{"text":{"field":"label"},"color":{"condition":[{"test":"datum.label==='RUS-LEV'","value":"#786AFA"},{"test":"datum.label==='DEN-NOR'","value":"#F5766D"}],"value":"black"}}}
]},
{"width":77.7,"height":357,"data":{"values":[{"label":"(c)","x":0.1415,"y":0.877}]},"mark":{"type":"text","align":"left","baseline":"middle","fontSize":27,"fontWeight":"bold"},"encoding":{"x":{"field":"x","type":"quantitative","axis":null,"scale":{"domain":[0,1]}},"y":{"field":"y","type":"quantitative","axis":null,"scale":{"domain":[0,1]}},"text":{"field":"label"}}},
{"width":490.7,"height":357,
"encoding":{
"x":{"field":"pos","type":"quantitative","scale":{"domain":[0.4,15.6],"nice":false,"zero":false},"axis":{"labels":false,"ticks":false,"grid":false,"domainColor":"black","domainWidth":2.5,"title":"Pairwise comparison","titleFontSize":19,"titleFontWeight":"normal","titleColor":"black","titleX":203.8,"titleY":21,"titleBaseline":"middle"}},
"y":{"field":"r","type":"quantitative","scale":{"domain":[0.2568,1.4795],"nice":false,"zero":false},"axis":{"values":[0.5,0.75,1],"format":".2f","domain":false,"grid":false,"title":null,"labelFontSize":16,"labelColor":"#4D4D4D","tickColor":"#333333","tickSize":4,"labelPadding":4}}},
"layer":[
{"data":{"name":"bands"},"mark":{"type":"rect"},"encoding":{"x2":{"field":"pos2"},"y2":{"field":"r2"},"fill":{"field":"pair","type":"nominal","legend":null,"scale":{"domain":["GER-RUE / POL-GDY","POL-GDY / SWE-GOT","SWE-GOT / FIN-HEL","FIN-HEL / SWE-BOL","SWE-BOL / FIN-KIV"],"range":["#FDB7B2","#D0D280","#80E0BD","#7FD5FA","#F0B2F7"]}}}},
{"data":{"name":"seps"},"mark":{"type":"rule","color":"#1A1A1A","strokeWidth":1},"encoding":{"y2":{"field":"r2"}}},
{"data":{"name":"yline"},"mark":{"type":"rule","color":"black","strokeWidth":2.5},"encoding":{"y2":{"field":"r2"}}},
{"data":{"name":"levels"},"mark":{"type":"rule","color":"#666666","strokeWidth":1.2,"strokeDash":[4,4]},"encoding":{"x2":{"field":"pos2"}}},
{"data":{"name":"unity"},"mark":{"type":"rule","color":"#555555","strokeWidth":1.2},"encoding":{"x2":{"field":"pos2"}}},
{"data":{"name":"cErr"},"mark":{"type":"line","color":"black","strokeWidth":2},"encoding":{"detail":{"field":"pos"},"order":{"value":null}}},
{"data":{"name":"cErr"},"mark":{"type":"tick","orient":"horizontal","size":22,"thickness":2,"color":"black","opacity":1},"encoding":{}},
{"data":{"name":"c"},"mark":{"type":"circle","size":190,"opacity":1},"encoding":{"color":{"field":"effect","type":"nominal","legend":null,"scale":{"domain":["High","Moderate","Low"],"range":["black","#707070","#B3B3B3"]}}}},
{"data":{"values":[{"label":"r","pos":-1.49,"r":0.733}]},"mark":{"type":"text","angle":270,"align":"center","baseline":"middle","fontSize":20,"fontStyle":"italic"},"encoding":{"text":{"field":"label"}}},
{"data":{"values":[{"label":"xy","pos":-1.19,"r":0.767}]},"mark":{"type":"text","angle":270,"align":"center","baseline":"middle","fontSize":13,"fontStyle":"italic"},"encoding":{"text":{"field":"label"}}}
]},
{"width":84.4,"height":357,"data":{"values":[{"label":"(d)","x":0.17,"y":0.877}]},"mark":{"type":"text","align":"left","baseline":"middle","fontSize":27,"fontWeight":"bold"},"encoding":{"x":{"field":"x","type":"quantitative","axis":null,"scale":{"domain":[0,1]}},"y":{"field":"y","type":"quantitative","axis":null,"scale":{"domain":[0,1]}},"text":{"field":"label"}}},
{"width":490.7,"height":357,
"encoding":{
"x":{"field":"pos","type":"quantitative","scale":{"domain":[0.4,15.6],"nice":false,"zero":false},"axis":{"labels":false,"ticks":false,"grid":false,"domainColor":"black","domainWidth":2.5,"title":"Pairwise comparison","titleFontSize":19,"titleFontWeight":"normal","titleColor":"black","titleX":213,"titleY":21,"titleBaseline":"middle"}},
"y":{"field":"r","type":"quantitative","scale":{"domain":[0.2568,1.4795],"nice":false,"zero":false},"axis":{"values":[0.5,0.75,1],"format":".2f","domain":false,"grid":false,"title":null,"labelFontSize":16,"labelColor":"#4D4D4D","tickColor":"#333333","tickSize":4,"labelPadding":4}}},
"layer":[
{"data":{"name":"bands"},"mark":{"type":"rect"},"encoding":{"x2":{"field":"pos2"},"y2":{"field":"r2"},"fill":{"field":"pair","type":"nominal","legend":null,"scale":{"domain":["GER-RUE / POL-GDY","POL-GDY / SWE-GOT","SWE-GOT / FIN-HEL","FIN-HEL / SWE-BOL","SWE-BOL / FIN-KIV"],"range":["#FDB7B2","#D0D280","#80E0BD","#7FD5FA","#F0B2F7"]}}}},
{"data":{"name":"seps"},"mark":{"type":"rule","color":"#1A1A1A","strokeWidth":1},"encoding":{"y2":{"field":"r2"}}},
{"data":{"name":"yline"},"mark":{"type":"rule","color":"black","strokeWidth":2.5},"encoding":{"y2":{"field":"r2"}}},
{"data":{"name":"levels"},"mark":{"type":"rule","color":"#666666","strokeWidth":1.2,"strokeDash":[4,4]},"encoding":{"x2":{"field":"pos2"}}},
{"data":{"name":"unity"},"mark":{"type":"rule","color":"#555555","strokeWidth":1.2},"encoding":{"x2":{"field":"pos2"}}},
{"data":{"name":"dErr"},"mark":{"type":"line","color":"black","strokeWidth":2},"encoding":{"detail":{"field":"pos"},"order":{"value":null}}},
{"data":{"name":"dErr"},"mark":{"type":"tick","orient":"horizontal","size":22,"thickness":2,"color":"black","opacity":1},"encoding":{}},
{"data":{"name":"d"},"mark":{"type":"circle","size":190,"opacity":1},"encoding":{"color":{"field":"effect","type":"nominal","legend":null,"scale":{"domain":["High","Moderate","Low"],"range":["black","#707070","#B3B3B3"]}}}},
{"data":{"values":[{"label":"r","pos":-1.49,"r":0.733}]},"mark":{"type":"text","angle":270,"align":"center","baseline":"middle","fontSize":20,"fontStyle":"italic"},"encoding":{"text":{"field":"label"}}},
{"data":{"values":[{"label":"xy","pos":-1.19,"r":0.767}]},"mark":{"type":"text","angle":270,"align":"center","baseline":"middle","fontSize":13,"fontStyle":"italic"},"encoding":{"text":{"field":"label"}}}
]},
{"width":77.7,"height":26,
"encoding":{"x":{"field":"k","type":"quantitative","axis":null,"scale":{"domain":[0,0.06768],"nice":false,"zero":false}},"y":{"field":"v","type":"quantitative","axis":null,"scale":{"domain":[0,1],"nice":false}}},
"layer":[
{"data":{"values":[{"effect":"High","k":0.4155,"v":0.5},{"effect":"Moderate","k":0.5078,"v":0.5},{"effect":"Low","k":0.6568,"v":0.5}]},"mark":{"type":"circle","size":531,"opacity":1},"encoding":{"color":{"field":"effect","type":"nominal","legend":null,"scale":{"domain":["High","Moderate","Low"],"range":["black","#707070","#B3B3B3"]}}}},
{"data":{"values":[{"label":"High","k":0.4286,"v":0.38},{"label":"Moderate","k":0.5235,"v":0.38},{"label":"Low","k":0.6725,"v":0.38}]},"mark":{"type":"text","align":"left","baseline":"middle","fontSize":19},"encoding":{"text":{"field":"label"}}},
{"data":{"values":[{"label":"Effect","k":0.3415,"v":0.38}]},"mark":{"type":"text","align":"center","baseline":"middle","fontSize":19},"encoding":{"text":{"field":"label"}}}
]}
]
}
